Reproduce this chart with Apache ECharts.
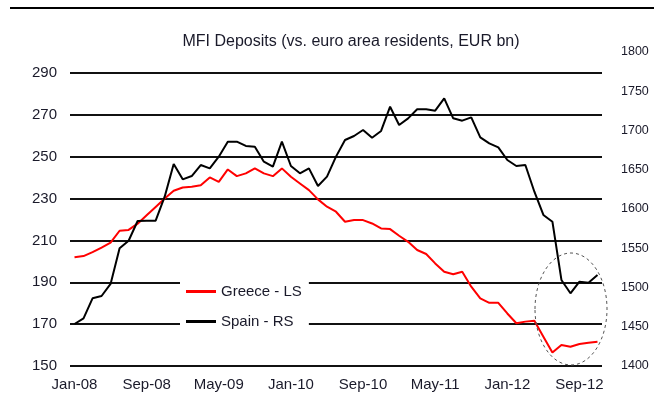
<!DOCTYPE html>
<html>
<head>
<meta charset="utf-8">
<script src="https://cdn.jsdelivr.net/npm/echarts@6/dist/echarts.min.js"></script>
<style>
  html, body { margin: 0; padding: 0; background: #fff; }
  #chart { width: 664px; height: 419px; }
</style>
</head>
<body>
<div id="chart"></div>
<script>
const categories = [
  'Jan-08','Feb-08','Mar-08','Apr-08','May-08','Jun-08','Jul-08','Aug-08','Sep-08','Oct-08','Nov-08','Dec-08',
  'Jan-09','Feb-09','Mar-09','Apr-09','May-09','Jun-09','Jul-09','Aug-09','Sep-09','Oct-09','Nov-09','Dec-09',
  'Jan-10','Feb-10','Mar-10','Apr-10','May-10','Jun-10','Jul-10','Aug-10','Sep-10','Oct-10','Nov-10','Dec-10',
  'Jan-11','Feb-11','Mar-11','Apr-11','May-11','Jun-11','Jul-11','Aug-11','Sep-11','Oct-11','Nov-11','Dec-11',
  'Jan-12','Feb-12','Mar-12','Apr-12','May-12','Jun-12','Jul-12','Aug-12','Sep-12','Oct-12','Nov-12'
];
const greece = [
  201.9, 202.5, 204.4, 206.6, 208.9, 214.6, 215.0, 218.0, 222.0, 226.0, 230.0, 233.7,
  235.3, 235.6, 236.3, 240.1, 238.0, 243.9, 240.7, 242.0, 244.4, 242.0, 240.7, 244.4,
  240.4, 237.2, 234.0, 229.6, 226.1, 223.7, 218.9, 219.7, 219.7, 218.1, 215.7, 215.4,
  212.2, 209.3, 205.4, 203.5, 199.0, 195.0, 193.8, 195.0, 187.9, 182.3, 180.2, 180.2,
  175.1, 170.4, 171.2, 171.6, 164.0, 156.4, 160.0, 159.2, 160.5, 161.1, 161.6
];
const spain = [
  1453.5, 1460.7, 1486.2, 1489.2, 1504.5, 1549.9, 1559.6, 1584.7, 1585.1, 1585.1, 1615.7, 1657.3,
  1637.8, 1642.0, 1656.0, 1651.8, 1666.7, 1685.8, 1685.8, 1680.3, 1679.4, 1660.3, 1653.9, 1685.8,
  1654.8, 1645.5, 1651.8, 1629.3, 1641.2, 1666.7, 1687.9, 1693.0, 1700.6, 1690.8, 1699.4, 1730.3,
  1707.0, 1715.5, 1727.0, 1727.0, 1725.3, 1741.0, 1715.5, 1712.5, 1716.8, 1691.3, 1683.7, 1678.6,
  1662.4, 1654.8, 1656.0, 1622.0, 1592.4, 1583.8, 1509.6, 1492.6, 1507.4, 1506.1, 1515.9
];
const leftTicks = [150, 170, 190, 210, 230, 250, 270, 290];
const rightTicks = [1400, 1450, 1500, 1550, 1600, 1650, 1700, 1750, 1800];
const seriesNames = ['Greece - LS', 'Spain - RS'];
const titleText = 'MFI Deposits (vs. euro area residents, EUR bn)';

const FONT = '"Liberation Sans", Arial, sans-serif';
const TXT = '#1a1a2a';

const chart = echarts.init(document.getElementById('chart'), null, { renderer: 'canvas' });

// left axis: step 10 from 150, labels/gridlines only at leftTicks
const leftColors = [];
for (let v = 150; v <= 300; v += 10) {
  leftColors.push(leftTicks.indexOf(v) >= 0 ? '#111' : 'rgba(0,0,0,0)');
}

chart.setOption({
  animation: false,
  backgroundColor: '#fff',
  title: {
    text: titleText,
    left: 351,
    top: 34,
    textAlign: 'center',
    padding: 0,
    textStyle: { fontFamily: FONT, fontSize: 16, fontWeight: 'normal', color: TXT }
  },
  legend: {
    data: seriesNames,
    orient: 'vertical',
    left: 180,
    top: 274,
    backgroundColor: '#fff',
    padding: [10, 7, 10, 6],
    itemGap: 15,
    itemWidth: 30,
    itemHeight: 3,
    icon: 'rect',
    textStyle: { fontFamily: FONT, fontSize: 15, color: TXT }
  },
  grid: { left: 70, right: 62, top: 52, bottom: 53, containLabel: false },
  xAxis: {
    type: 'category',
    data: categories,
    boundaryGap: true,
    axisLine: { show: false },
    axisTick: { show: false },
    axisLabel: { interval: 7, margin: 11, fontFamily: FONT, fontSize: 15, color: TXT }
  },
  yAxis: [
    {
      type: 'value',
      min: 150,
      max: 300,
      interval: 10,
      axisLine: { show: false },
      axisTick: { show: false },
      splitLine: { show: true, lineStyle: { color: leftColors, width: 2 } },
      axisLabel: {
        margin: 13,
        fontFamily: FONT, fontSize: 15, color: TXT,
        formatter: function (v) { return leftTicks.indexOf(v) >= 0 ? String(v) : ''; }
      }
    },
    {
      type: 'value',
      min: 1400,
      max: 1800,
      interval: 50,
      position: 'right',
      axisLine: { show: false },
      axisTick: { show: false },
      splitLine: { show: false },
      axisLabel: {
        margin: 19,
        fontFamily: FONT, fontSize: 12.5, color: TXT,
        formatter: function (v) { return rightTicks.indexOf(v) >= 0 ? String(v) : ''; }
      }
    }
  ],
  series: [
    {
      name: seriesNames[0],
      type: 'line',
      yAxisIndex: 0,
      data: greece,
      symbol: 'none',
      color: '#ff0000',
      lineStyle: { color: '#ff0000', width: 2 },
      z: 3
    },
    {
      name: seriesNames[1],
      type: 'line',
      yAxisIndex: 1,
      data: spain,
      symbol: 'none',
      color: '#000000',
      lineStyle: { color: '#000000', width: 2 },
      z: 3
    }
  ],
  graphic: [
    {
      type: 'line',
      shape: { x1: 10, y1: 8, x2: 654, y2: 8 },
      style: { stroke: '#000', lineWidth: 2 },
      z: 10
    },
    {
      type: 'ellipse',
      shape: { cx: 571, cy: 309, rx: 36, ry: 56 },
      style: { stroke: '#555', fill: null, lineWidth: 1, lineDash: [3, 3] },
      z: 10
    }
  ]
});
</script>
</body>
</html>
